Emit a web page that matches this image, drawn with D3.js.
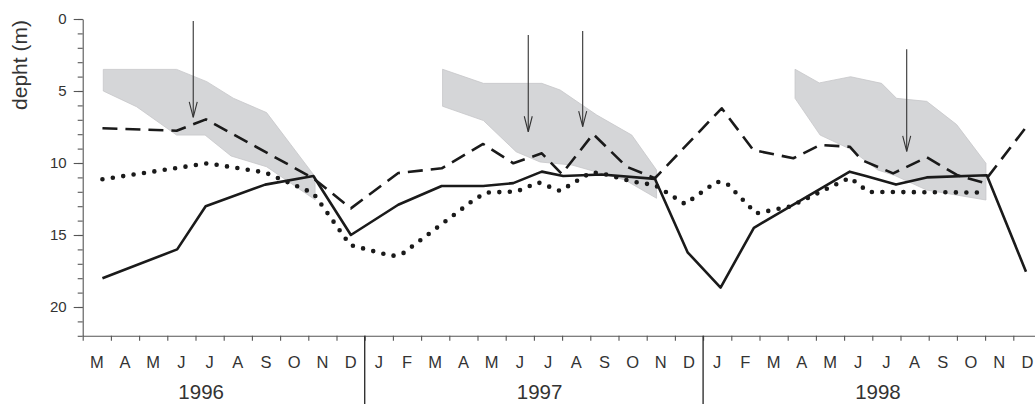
<!DOCTYPE html>
<html><head><meta charset="utf-8">
<script src="https://cdn.jsdelivr.net/npm/d3@7"></script>
<style>
body{margin:0;background:#fff}
svg{display:block}
text{font-family:"Liberation Sans",Arial,Helvetica,sans-serif;fill:#333}
</style>
</head><body>
<svg id="chart" width="1035" height="404"></svg>
<script>
// ---------- DATA ----------
const months = ["M","A","M","J","J","A","S","O","N","D",
                "J","F","M","A","M","J","J","A","S","O","N","D",
                "J","F","M","A","M","J","J","A","S","O","N","D"];
const years = ["1996","1997","1998"];
const depthTicks = [0,5,10,15,20];

// sampling positions in months since 1 March 1996
const solidTime  = [0.70,3.35,4.36,6.47,8.18,9.51,11.19,12.73,14.20,15.27,16.28,17.04,18.40,20.29,21.45,22.62,23.80,27.20,27.77,28.84,29.93,32.06,33.45];
const solidDepth = [18.0,16.0,13.0,11.5,10.9,15.0,12.9,11.6,11.6,11.4,10.6,10.9,10.8,11.1,16.2,18.65,14.5,10.6,10.9,11.5,11.0,10.85,17.55];

const dashTime  = [0.70,3.33,4.37,8.18,9.51,11.19,12.73,14.20,15.27,16.28,16.99,18.10,19.29,20.29,22.66,23.78,25.20,26.15,27.20,27.63,28.74,29.93,31.00,31.94,33.47];
const dashDepth = [7.59,7.76,6.97,11.06,13.15,10.7,10.37,8.68,10.02,9.33,10.76,7.99,10.26,11.06,6.2,9.1,9.67,8.75,8.87,9.8,10.72,9.6,10.83,11.37,7.47];

const dotTime  = [0.70,4.43,6.47,8.18,9.48,10.96,11.34,13.91,14.33,15.39,16.16,16.93,18.02,18.40,19.52,20.29,21.36,22.48,22.84,23.88,25.08,27.21,27.86,32.00];
const dotDepth = [11.13,10.02,10.66,12.1,15.69,16.46,16.3,12.5,12.05,11.98,11.35,11.94,10.66,10.72,11.3,11.53,12.85,11.3,11.41,13.5,13.02,11.02,12.01,12.05];

// shaded ranges: upper and lower edges
const band1TopTime  = [0.73,3.33,4.40,5.34,6.52,8.24];
const band1TopDepth = [3.5,3.5,4.35,5.5,6.5,10.95];
const band1BotTime  = [0.73,1.91,3.33,4.34,5.26,6.52,8.24];
const band1BotDepth = [5.0,6.09,8.06,8.06,9.51,10.26,12.55];

const band2TopTime  = [12.76,14.21,16.28,16.93,18.23,19.47,20.35];
const band2TopDepth = [3.49,4.47,4.47,4.93,6.67,8.06,10.49];
const band2BotTime  = [12.76,14.21,15.37,16.22,17.35,19.23,20.35];
const band2BotDepth = [6.06,7.05,9.22,9.93,10.14,11.18,12.45];

const band3TopTime  = [25.26,26.12,27.23,28.33,28.86,29.93,30.99,32.03];
const band3TopDepth = [3.49,4.44,4.01,4.47,5.51,5.72,7.33,10.02];
const band3BotTime  = [25.26,26.15,27.21,28.20,28.80,29.93,32.03];
const band3BotDepth = [5.51,8.06,9.03,10.49,10.87,11.88,12.57];

// arrows
const arrowTime  = [3.92,15.80,17.73,29.22];
const arrowStart = [0.14,1.11,0.83,2.10];
const arrowEnd   = [6.83,7.83,7.48,9.20];

// ---------- CHART ----------
const svg = d3.select("#chart");
const x = d3.scaleLinear().domain([0, months.length]).range([82.7, 1041.5]);
const y = d3.scaleLinear().domain([0, 22]).range([19, 335.8]);
const ink = "#1a1a1a", axisCol = "#555";

const zip = (t, d) => t.map((v, i) => [v, d[i]]);
const line = d3.line().x(p => x(p[0])).y(p => y(p[1]));

// bands
[[band1TopTime,band1TopDepth,band1BotTime,band1BotDepth],
 [band2TopTime,band2TopDepth,band2BotTime,band2BotDepth],
 [band3TopTime,band3TopDepth,band3BotTime,band3BotDepth]].forEach(b => {
  const pts = zip(b[0], b[1]).concat(zip(b[2], b[3]).reverse());
  svg.append("path").attr("d", line(pts) + "Z")
    .attr("fill", "#d5d6d8").attr("stroke", "#c6c7c9").attr("stroke-width", 0.8);
});

// axes
const yMinor = d3.axisLeft(y).tickValues(d3.range(0, 23)).tickSize(5).tickFormat("").tickSizeOuter(0);
const gy1 = svg.append("g").attr("transform", `translate(${x(0)},0)`).call(yMinor);
const yMajor = d3.axisLeft(y).tickValues(depthTicks).tickSize(9).tickPadding(7).tickSizeOuter(0);
const gy2 = svg.append("g").attr("transform", `translate(${x(0)},0)`).call(yMajor);
gy2.select(".domain").remove();
const xAx = d3.axisBottom(x).tickValues(d3.range(0, months.length + 1)).tickSize(5).tickFormat("").tickSizeOuter(0);
const gx = svg.append("g").attr("transform", `translate(0,${y(22)})`).call(xAx);
[gy1, gy2, gx].forEach(g => {
  g.selectAll("path,line").attr("stroke", axisCol).attr("stroke-width", 1.1);
});
gy2.selectAll("text").attr("font-size", 15).attr("fill", "#333")
  .attr("font-family", '"Liberation Sans",Arial,sans-serif');

// month labels
svg.append("g").selectAll("text").data(months).join("text")
  .attr("x", (d, i) => x(i + 0.5)).attr("y", 368.3)
  .attr("text-anchor", "middle").attr("font-size", 16.5).text(d => d);

// year separators and labels
const bounds = months.map((m, i) => i).filter(i => i > 0 && months[i - 1] === "D");
bounds.forEach(i => {
  svg.append("line").attr("x1", x(i)).attr("x2", x(i))
    .attr("y1", y(22)).attr("y2", 404)
    .attr("stroke", "#333").attr("stroke-width", 1.4);
});
const starts = [0].concat(bounds);
years.forEach((yr, k) => {
  const s = starts[k];
  let julyIdx = s;
  for (let i = s + 1; i < months.length; i++) { if (months[i] === "J" && months[i - 1] === "J") { julyIdx = i; break; } }
  svg.append("text").attr("x", x(julyIdx + 0.2)).attr("y", 399.3)
    .attr("text-anchor", "middle").attr("font-size", 20.5).text(yr);
});

// y title
svg.append("text").attr("transform", "translate(27,65) rotate(-90)")
  .attr("text-anchor", "middle").attr("font-size", 21).text("depht (m)");

// series
svg.append("path").attr("d", line(zip(dotTime, dotDepth)))
  .attr("fill", "none").attr("stroke", ink).attr("stroke-width", 4.6)
  .attr("stroke-linecap", "round").attr("stroke-dasharray", "0 10.5");
svg.append("path").attr("d", line(zip(dashTime, dashDepth)))
  .attr("fill", "none").attr("stroke", ink).attr("stroke-width", 2.6)
  .attr("stroke-dasharray", "15 8").attr("stroke-linejoin", "round");
svg.append("path").attr("d", line(zip(solidTime, solidDepth)))
  .attr("fill", "none").attr("stroke", ink).attr("stroke-width", 2.6)
  .attr("stroke-linejoin", "round");

// arrows
arrowTime.forEach((t, i) => {
  const ax = x(t), y0 = y(arrowStart[i]), y1 = y(arrowEnd[i]);
  const g = svg.append("g").attr("stroke", "#333").attr("stroke-width", 1.1).attr("fill", "none");
  g.append("line").attr("x1", ax).attr("x2", ax).attr("y1", y0).attr("y2", y1);
  g.append("path").attr("d", `M${ax - 4},${y1 - 15.5}L${ax},${y1}L${ax + 4},${y1 - 15.5}`);
});
</script>
</body></html>
